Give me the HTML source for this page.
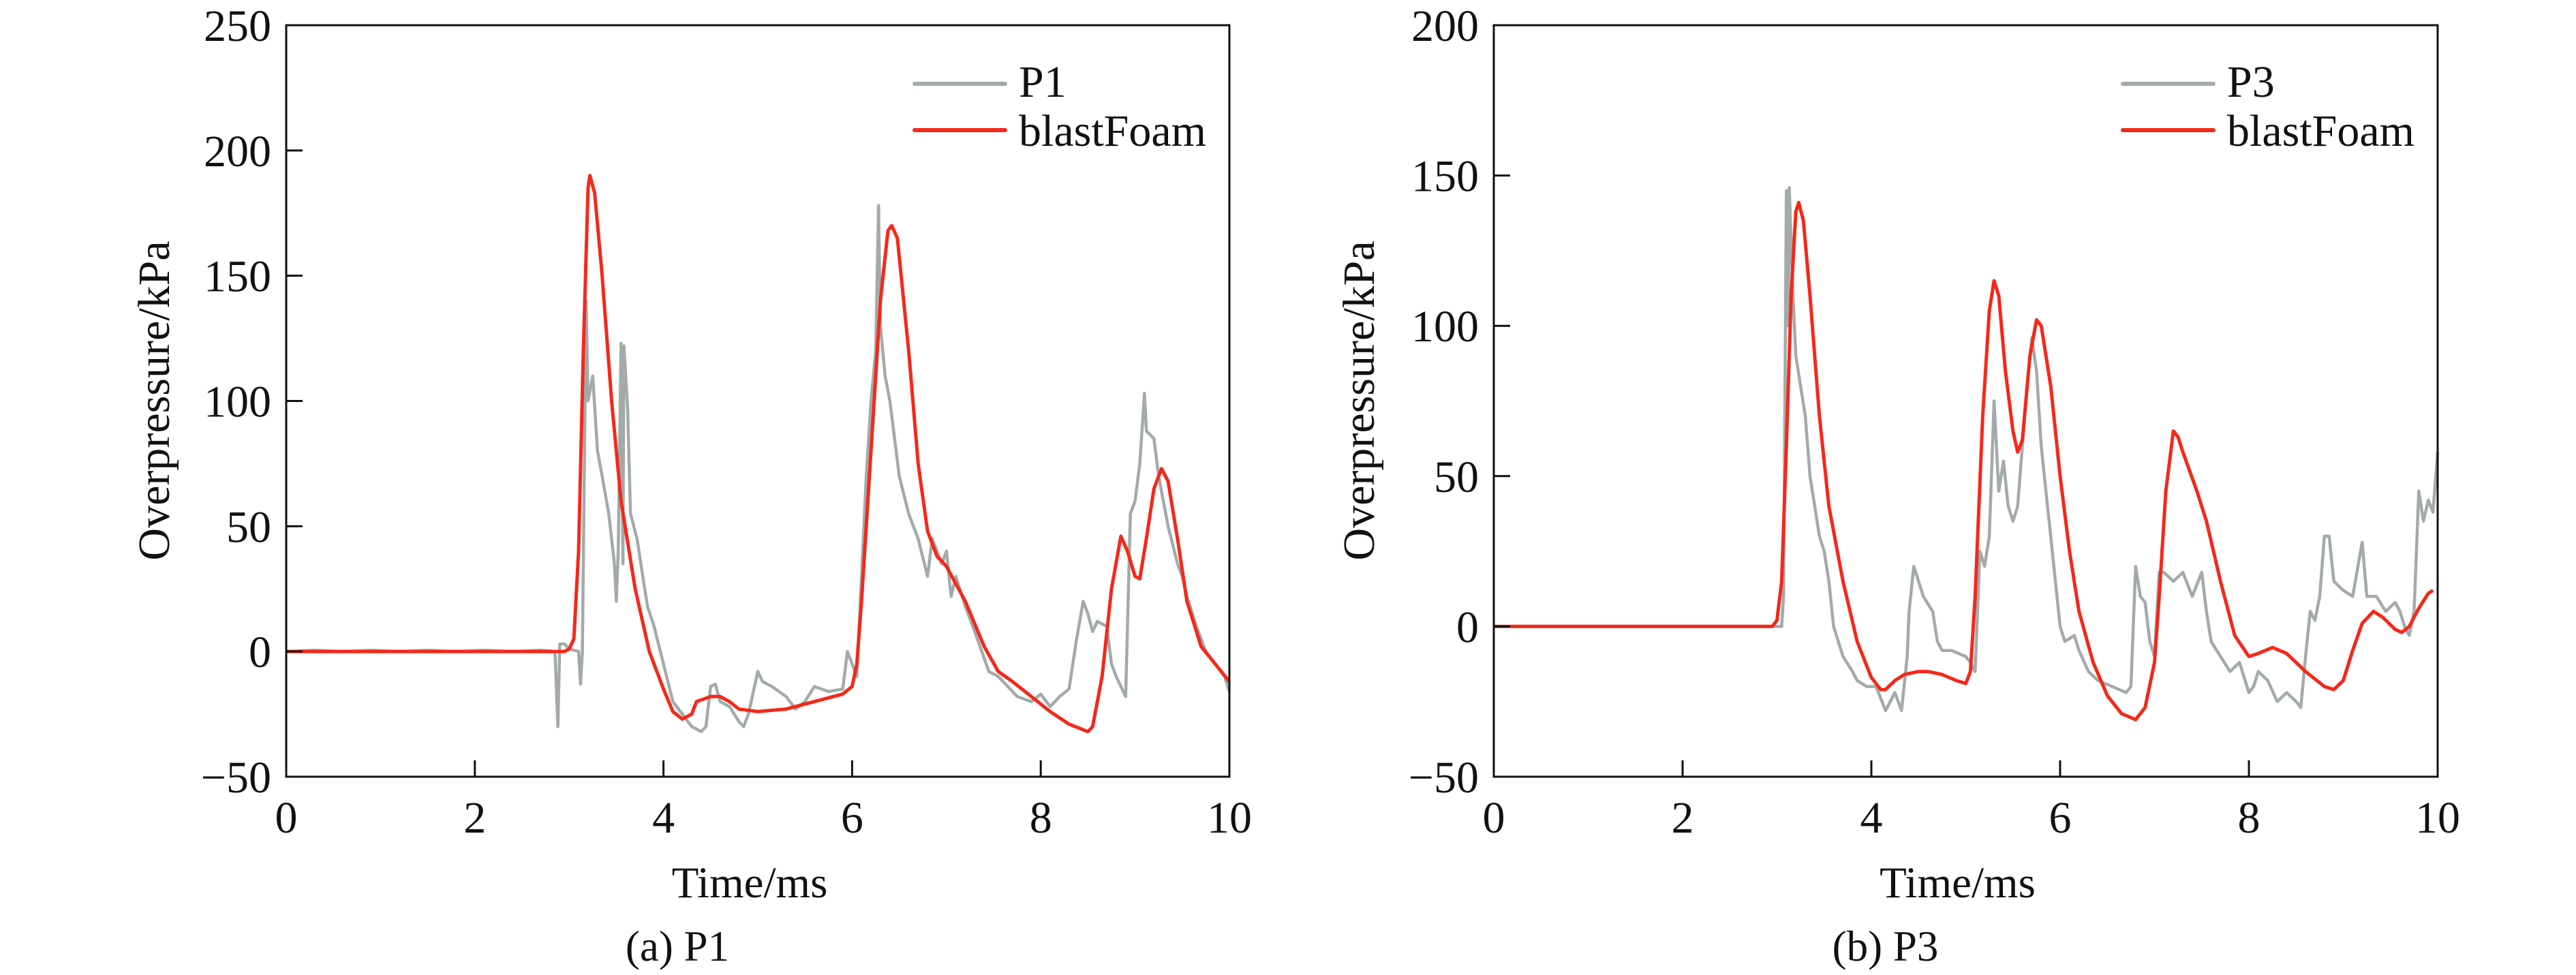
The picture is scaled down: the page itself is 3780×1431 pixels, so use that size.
<!DOCTYPE html>
<html><head><meta charset="utf-8"><style>
html,body{margin:0;padding:0;background:#fff;}
svg{display:block;font-family:"Liberation Serif",serif;}
</style></head><body>
<svg id="fig" width="3780" height="1431" viewBox="0 0 3780 1431" xmlns="http://www.w3.org/2000/svg"></svg>
<script>
// ---- Panel (a) P1 data ----
const p1Time=[0,0.3,0.6,0.9,1.2,1.5,1.8,2.1,2.4,2.7,2.85,2.88,2.9,2.95,3.0,3.1,3.12,3.14,3.18,3.2,3.25,3.3,3.35,3.42,3.48,3.5,3.52,3.55,3.57,3.58,3.62,3.65,3.72,3.78,3.83,3.9,4.0,4.1,4.2,4.3,4.4,4.45,4.5,4.55,4.6,4.7,4.8,4.85,4.9,5.0,5.05,5.15,5.3,5.4,5.5,5.6,5.75,5.9,5.95,6.0,6.05,6.1,6.15,6.2,6.25,6.28,6.3,6.35,6.4,6.45,6.5,6.6,6.7,6.8,6.85,6.9,6.95,7.0,7.05,7.1,7.2,7.3,7.45,7.55,7.65,7.75,7.9,8.0,8.1,8.2,8.3,8.38,8.45,8.5,8.55,8.6,8.7,8.75,8.8,8.9,8.95,9.0,9.05,9.1,9.12,9.2,9.25,9.35,9.45,9.5,9.55,9.65,9.75,9.85,9.95,10];
const p1Meas=[0,0.5,0,0.5,0,0.5,0,0.5,0,0.5,0,-30,3,3,1,0,-13,0,140,100,110,80,70,55,35,20,40,123,35,122,97,55,45,30,18,10,-5,-20,-25,-30,-32,-30,-14,-13,-20,-22,-28,-30,-25,-8,-12,-14,-18,-23,-20,-14,-16,-15,0,-5,-10,30,70,100,120,178,130,110,100,85,70,55,45,30,45,40,35,40,22,30,18,8,-8,-10,-14,-18,-20,-17,-22,-18,-15,5,20,15,8,12,10,-5,-10,-18,55,60,75,103,88,85,70,50,35,30,22,10,0,-5,-10,-16];
const p1SimTime=[0,2.95,3.0,3.05,3.1,3.15,3.2,3.22,3.27,3.35,3.45,3.55,3.7,3.85,4.0,4.1,4.2,4.3,4.35,4.5,4.6,4.7,4.8,5.0,5.3,5.6,5.9,6.0,6.05,6.1,6.2,6.3,6.38,6.42,6.48,6.6,6.7,6.8,6.9,7.0,7.2,7.4,7.55,7.7,7.9,8.1,8.3,8.5,8.55,8.65,8.75,8.85,8.92,9.0,9.05,9.12,9.2,9.28,9.35,9.45,9.55,9.7,9.85,10];
const p1Sim=[0,0,1,5,40,120,185,190,183,150,100,60,25,0,-15,-24,-27,-25,-20,-18,-18,-20,-23,-24,-23,-20,-17,-14,-5,20,80,140,168,170,165,120,75,48,38,34,20,2,-8,-12,-18,-24,-29,-32,-30,-10,25,46,40,30,29,45,65,73,68,45,20,2,-5,-12];
const p1Ticks=[-50,0,50,100,150,200,250];
// ---- Panel (b) P3 data ----
const p3Time=[0,1,2,3.0,3.05,3.07,3.1,3.12,3.13,3.17,3.2,3.25,3.3,3.35,3.4,3.45,3.5,3.55,3.6,3.7,3.8,3.85,3.95,4.05,4.15,4.2,4.25,4.32,4.38,4.4,4.45,4.5,4.55,4.65,4.7,4.75,4.85,5.0,5.05,5.1,5.15,5.2,5.25,5.3,5.35,5.4,5.45,5.5,5.55,5.6,5.65,5.7,5.75,5.8,5.85,5.9,5.95,6.0,6.05,6.15,6.2,6.3,6.4,6.55,6.7,6.75,6.8,6.85,6.9,6.95,7.0,7.05,7.1,7.2,7.3,7.4,7.5,7.55,7.6,7.7,7.8,7.9,8.0,8.05,8.1,8.2,8.3,8.4,8.5,8.55,8.6,8.65,8.7,8.75,8.8,8.85,8.9,9.0,9.1,9.2,9.25,9.35,9.45,9.55,9.6,9.65,9.7,9.75,9.8,9.85,9.9,9.95,10];
const p3Meas=[0,0,0,0,0,10,145,100,146,110,90,80,70,50,40,30,25,15,0,-10,-15,-18,-20,-20,-28,-25,-22,-28,-10,5,20,15,10,5,-5,-8,-8,-10,-12,-15,25,20,30,75,45,55,40,35,40,60,80,96,85,60,45,30,15,0,-5,-3,-8,-15,-18,-20,-22,-20,20,10,8,-5,-10,18,18,15,18,10,18,5,-5,-10,-15,-12,-22,-20,-15,-18,-25,-22,-25,-27,-10,5,2,10,30,30,15,12,10,28,10,10,5,8,5,0,-3,5,45,35,42,38,58];
const p3SimTime=[0,2.95,3.0,3.05,3.1,3.15,3.2,3.23,3.28,3.35,3.45,3.55,3.7,3.85,4.0,4.1,4.15,4.25,4.35,4.5,4.6,4.75,4.9,5.0,5.05,5.1,5.18,5.25,5.3,5.35,5.42,5.5,5.55,5.6,5.68,5.75,5.8,5.9,6.0,6.1,6.2,6.35,6.5,6.65,6.8,6.9,7.0,7.05,7.12,7.2,7.25,7.3,7.45,7.55,7.7,7.85,8.0,8.1,8.25,8.4,8.6,8.8,8.9,9.0,9.1,9.2,9.32,9.42,9.55,9.62,9.7,9.8,9.9,9.95];
const p3Sim=[0,0,2,15,60,110,138,141,135,110,70,40,15,-5,-17,-21,-21,-18,-16,-15,-15,-16,-18,-19,-15,10,70,105,115,110,85,65,58,62,90,102,100,80,50,25,5,-12,-23,-29,-31,-27,-12,10,45,65,63,58,45,35,15,-3,-10,-9,-7,-9,-15,-20,-21,-18,-8,1,5,3,-1,-2,0,6,11,12];
const p3Ticks=[-50,0,50,100,150,200];
const xTicks=[0,2,4,6,8,10];

const NS="http://www.w3.org/2000/svg";
const svg=document.getElementById('fig');
function mk(tag,attrs,parent){const e=document.createElementNS(NS,tag);for(const k in attrs)e.setAttribute(k,attrs[k]);(parent||svg).appendChild(e);return e;}

function panel(cfg){
  const g=mk('g',{});
  
  
  const L=cfg.x0,R=cfg.x1,T=37,B=1140;
  const ymin=cfg.ticks[0],ymax=cfg.ticks[cfg.ticks.length-1];
  const sx=t=>L+(t-0)/(10-0)*(R-L);
  const sy=v=>B-(v-ymin)/(ymax-ymin)*(B-T);
  const path=(xs,ys)=>xs.map((t,i)=>(i?'L':'M')+sx(t).toFixed(1)+','+sy(ys[i]).toFixed(1)).join('');
  const gl=mk('path',{d:path(cfg.mt,cfg.mv),fill:'none',stroke:'#a3aaaa','stroke-width':4.5,'stroke-linejoin':'round'},g);
  
  
  const rl=mk('path',{d:path(cfg.st,cfg.sv),fill:'none',stroke:'#f5281a','stroke-width':5,'stroke-linejoin':'round'},g);
  
  
  const fr=mk('rect',{x:L,y:T,width:R-L,height:B-T,fill:'none',stroke:'#111','stroke-width':3},g);
  
  
  xTicks.forEach(t=>{
    const x=sx(t);
    if(t>0&&t<10){const tk=mk('line',{x1:x,y1:B,x2:x,y2:B-24,stroke:'#111','stroke-width':3},g);
      
      }
    const tx=mk('text',{x:x,y:1222,'font-size':66,'text-anchor':'middle',fill:'#111'},g);
    tx.textContent=t;
    
    
  });
  cfg.ticks.forEach(v=>{
    const y=sy(v);
    if(v>ymin&&v<ymax){const tk=mk('line',{x1:L,y1:y,x2:L+24,y2:y,stroke:'#111','stroke-width':3},g);
      
      }
    const tx=mk('text',{x:cfg.x0-22,y:y+23,'font-size':66,'text-anchor':'end',fill:'#111'},g);
    tx.textContent=v<0?'\u2212'+(-v):v;
    
    
  });
  const xt=mk('text',{x:(L+R)/2-12,y:1317,'font-size':65,'text-anchor':'middle',fill:'#111'},g);
  xt.textContent='Time/ms';
  
  
  const yt=mk('text',{x:0,y:0,'font-size':66,'text-anchor':'middle',fill:'#111',transform:'translate('+(cfg.ylx)+',588) rotate(-90)'},g);
  yt.textContent='Overpressure/kPa';
  
  
  const cap=mk('text',{x:(L+R)/2-118,y:1410,'font-size':63,'text-anchor':'middle',fill:'#111'},g);
  cap.textContent=cfg.caption;
  
  
  const lg=mk('g',{},g);
  
  
  const lx=R-462;
  const l1=mk('line',{x1:lx,y1:123,x2:lx+133,y2:123,stroke:'#a3aaaa','stroke-width':6,'stroke-linecap':'round'},lg);
  
  
  const t1=mk('text',{x:lx+153,y:142,'font-size':66,fill:'#111'},lg);
  t1.textContent=cfg.label;
  
  
  const l2=mk('line',{x1:lx,y1:191,x2:lx+133,y2:191,stroke:'#f5281a','stroke-width':6,'stroke-linecap':'round'},lg);
  
  
  const t2=mk('text',{x:lx+153,y:214,'font-size':66,fill:'#111'},lg);
  t2.textContent='blastFoam';
  
  
}
panel({id:'p1',x0:420,x1:1804,ticks:p1Ticks,mt:p1Time,mv:p1Meas,st:p1SimTime,sv:p1Sim,label:'P1',caption:'(a) P1',ylx:248});
panel({id:'p3',x0:2192,x1:3577,ticks:p3Ticks,mt:p3Time,mv:p3Meas,st:p3SimTime,sv:p3Sim,label:'P3',caption:'(b) P3',ylx:2016});
</script>
</body></html>
